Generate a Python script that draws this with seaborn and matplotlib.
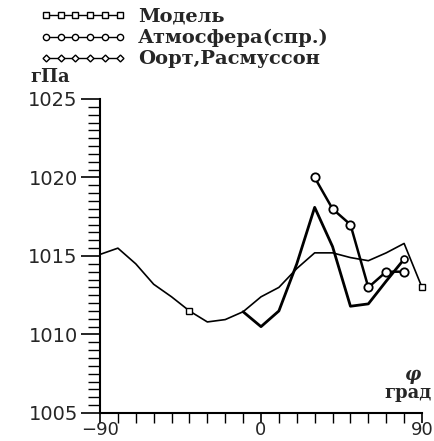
import numpy as np
import pandas as pd
import matplotlib
matplotlib.use("Agg")
import matplotlib.pyplot as plt
import seaborn as sns
from matplotlib.lines import Line2D
from matplotlib.ticker import MultipleLocator, FixedLocator

# ---- data ----
lat_model = [-90, -80, -70, -60, -50, -40, -30, -20, -10, 0, 10, 20, 30, 40, 50, 60, 70, 80, 90]
p_model = [1015.1, 1015.5, 1014.5, 1013.2, 1012.4, 1011.5, 1010.8, 1010.95, 1011.45, 1012.4,
           1013.0, 1014.2, 1015.2, 1015.2, 1014.9, 1014.7, 1015.2, 1015.8, 1013.0]

lat_atm = [30, 40, 50, 60, 70, 80]
p_atm = [1020.0, 1018.0, 1017.0, 1013.0, 1014.0, 1014.0]

lat_oort = [-10, 0, 10, 20, 30, 40, 50, 60, 70, 80]
p_oort = [1011.45, 1010.5, 1011.5, 1014.5, 1018.1, 1015.6, 1011.8, 1011.95, 1013.4, 1014.8]

labels = ["Модель", "Атмосфера(спр.)", "Оорт,Расмуссон"]
yticks = [1005, 1010, 1015, 1020, 1025]
xticks = [-90, 0, 90]

sns.set_theme(style="white")
plt.rcParams['font.family'] = ['DejaVu Sans']

fig = plt.figure(figsize=(4.34, 4.41), dpi=100)
ax = fig.add_axes([100/434, 1-413/441, 322/434, 314/441])

df_m = pd.DataFrame({"lat": lat_model, "p": p_model})
df_a = pd.DataFrame({"lat": lat_atm, "p": p_atm})
df_o = pd.DataFrame({"lat": lat_oort, "p": p_oort})

sns.lineplot(data=df_m, x="lat", y="p", ax=ax, color="black", linewidth=1.2,
             marker="s", markersize=5, markerfacecolor="white", markeredgecolor="black",
             markeredgewidth=1.0, markevery=[5, 18], clip_on=False)
sns.lineplot(data=df_o, x="lat", y="p", ax=ax, color="black", linewidth=2.0,
             marker="o", markersize=5, markerfacecolor="white", markeredgecolor="black",
             markeredgewidth=1.2, markevery=[9])
sns.lineplot(data=df_a, x="lat", y="p", ax=ax, color="black", linewidth=1.8,
             marker="o", markersize=6, markerfacecolor="white", markeredgecolor="black",
             markeredgewidth=1.3)

ax.set_xlim(-90, 90)
ax.set_ylim(1005, 1025)
ax.set_xlabel("")
ax.set_ylabel("")
for s in ["top", "right"]:
    ax.spines[s].set_visible(False)
for s in ["left", "bottom"]:
    ax.spines[s].set_color("black")
    ax.spines[s].set_linewidth(1.5)

ax.yaxis.set_major_locator(FixedLocator(yticks))
ax.yaxis.set_minor_locator(MultipleLocator(0.5))
ax.xaxis.set_major_locator(FixedLocator(xticks))
ax.xaxis.set_minor_locator(MultipleLocator(10))
ax.set_yticklabels([str(v) for v in yticks])
ax.set_xticklabels(["\u221290", "0", "90"])
ax.tick_params(axis="y", which="major", direction="out", length=14, width=1.2,
               color="black", labelsize=14, pad=2, left=True)
ax.tick_params(axis="y", which="minor", direction="out", length=9, width=1.0,
               color="black", left=True)
ax.tick_params(axis="x", which="major", direction="out", length=7, width=1.2,
               color="black", labelsize=13, pad=-1, bottom=True)
ax.tick_params(axis="x", which="minor", direction="out", length=7, width=1.0,
               color="black", bottom=True)
ax.grid(False)

# axis labels
fig.text(30/434, 1-77/441, "гПа", fontsize=13, fontweight="bold",
         family="DejaVu Serif", ha="left", va="center")
fig.text(412/434, 1-375/441, "φ", fontsize=13, fontweight="bold", fontstyle="italic",
         family="DejaVu Serif", ha="center", va="center")
fig.text(432/434, 1-393/441, "град", fontsize=13, fontweight="bold",
         family="DejaVu Serif", ha="right", va="center")

# legend
handles = [
    Line2D([], [], color="black", linewidth=1.0, marker="s", markersize=4,
           markerfacecolor="white", markeredgecolor="black"),
    Line2D([], [], color="black", linewidth=1.0, marker="o", markersize=4.5,
           markerfacecolor="white", markeredgecolor="black"),
    Line2D([], [], color="black", linewidth=1.0, marker="D", markersize=3.5,
           markerfacecolor="white", markeredgecolor="black"),
]
leg = fig.legend(handles, labels, loc="upper left", bbox_to_anchor=(40/434, 1-8/441),
                 frameon=False, numpoints=6, handlelength=4.4, handletextpad=0.65,
                 labelspacing=0.16, borderpad=0, borderaxespad=0,
                 prop={"family": "DejaVu Serif", "weight": "bold", "size": 14})

fig.savefig("out.png", dpi=100)
